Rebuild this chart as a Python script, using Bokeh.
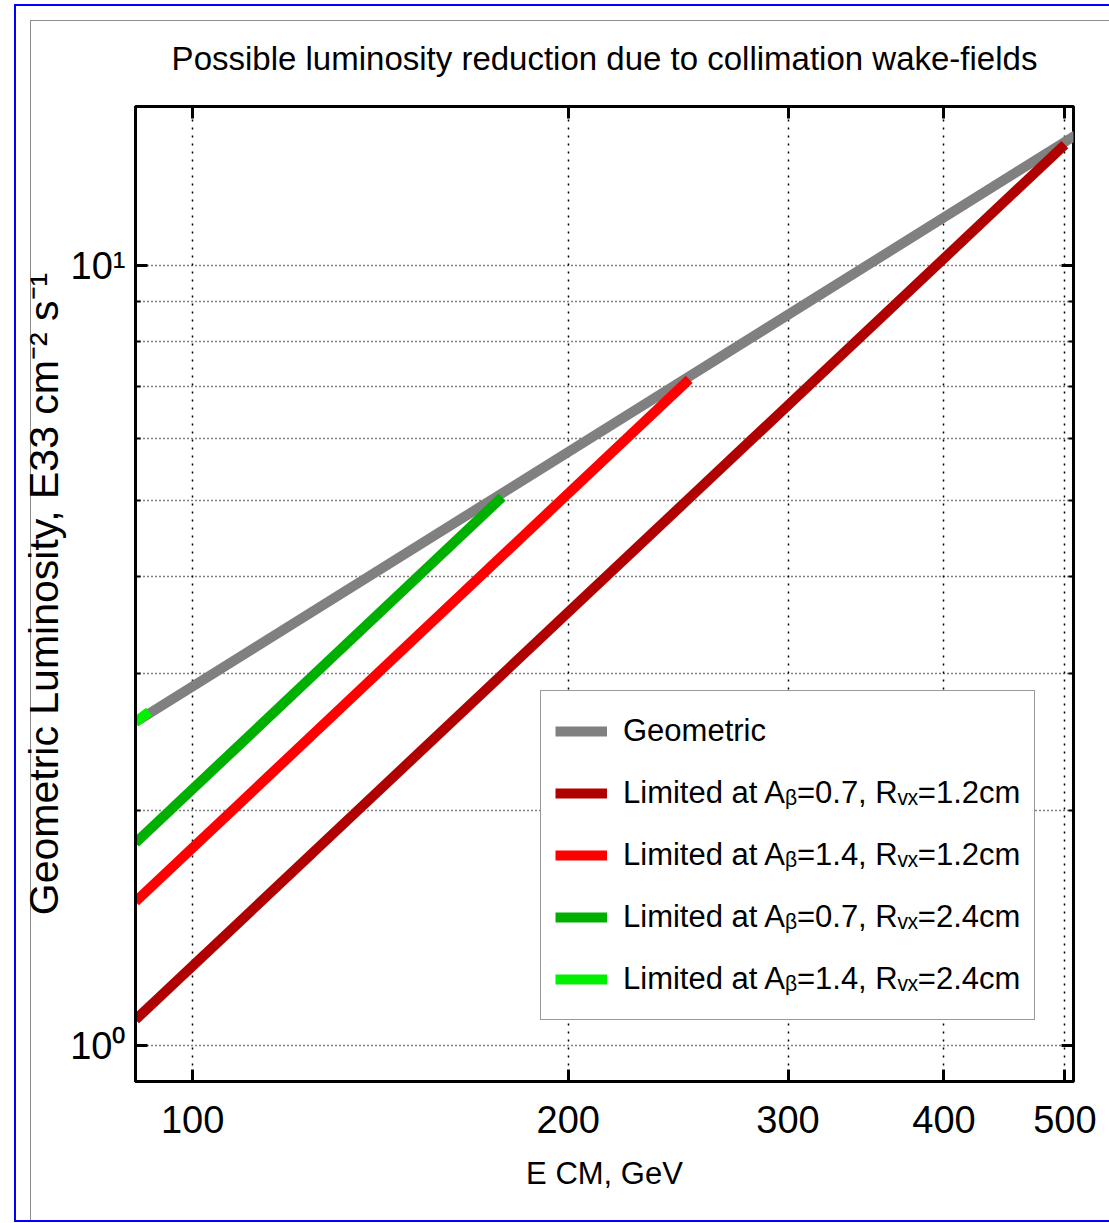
from bokeh.plotting import figure
from bokeh.layouts import column
from bokeh.models import FixedTicker, LogAxis, Range1d, Legend, LegendItem
from bokeh.embed import file_html
from bokeh.resources import INLINE

# ---------------- data ----------------
title_text = "Possible luminosity reduction due to collimation wake-fields"
x_label = "E CM, GeV"
y_label = "Geometric Luminosity, E33 cm\u207b\u00b2 s\u207b\u00b9"

x_ticks = [100, 200, 300, 400, 500]
x_tick_labels = ["100", "200", "300", "400", "500"]
y_ticks = [1, 10]
y_tick_labels = ["10\u2070", "10\u00b9"]
y_minor_ticks = [2, 3, 4, 5, 6, 7, 8, 9]

x_limits = [90, 508]
y_limits = [0.9, 16.0]

series_names = [
    "Geometric",
    "Limited at A\u1d66=0.7, R\u1d65\u2093=1.2cm",
    "Limited at A\u1d66=1.4, R\u1d65\u2093=1.2cm",
    "Limited at A\u1d66=0.7, R\u1d65\u2093=2.4cm",
    "Limited at A\u1d66=1.4, R\u1d65\u2093=2.4cm",
]
series_colors = ["#808080", "#B00000", "#FF0000", "#00B000", "#00F000"]

e_geometric = [90, 510]
lum_geometric = [2.60, 14.7]

e_a07_r12 = [90, 500]
lum_a07_r12 = [1.08, 14.3]

e_a14_r12 = [90, 250]
lum_a14_r12 = [1.53, 7.15]

e_a07_r24 = [90, 177]
lum_a07_r24 = [1.82, 5.05]

e_a14_r24 = [90, 92.3]
lum_a14_r24 = [2.60, 2.68]

series_x = [e_geometric, e_a07_r12, e_a14_r12, e_a07_r24, e_a14_r24]
series_y = [lum_geometric, lum_a07_r12, lum_a14_r12, lum_a07_r24, lum_a14_r24]

# ---------------- styling ----------------
FONT = "Liberation Sans"
OX, OY = 16, 6   # figure origin on the page (inside the blue frame)
W = 1109 - OX

p = figure(
    width=W, height=1220 - OY,
    x_axis_type="log", y_axis_type="log",
    x_range=Range1d(*x_limits), y_range=Range1d(*y_limits),
    output_backend="svg", toolbar_location=None,
    min_border_left=135 - OX, min_border_right=W - (1073 - OX),
    min_border_top=106 - OY, min_border_bottom=1220 - 1081,
    title=title_text,
)
p.background_fill_color = "white"
p.border_fill_color = None
p.outline_line_color = "black"
p.outline_line_width = 3
# thin grey page frame (left and top) drawn behind the transparent border area
p.styles = {"box-shadow": "inset 14px 14px 0 0 #ffffff, inset 15px 15px 0 0 #8c8c8c"}

p.title.align = "center"
p.title.text_font = FONT
p.title.text_font_size = "33px"
p.title.text_font_style = "normal"
p.title.text_color = "black"
p.title.standoff = 60

xt = FixedTicker(ticks=x_ticks, minor_ticks=[])
yt = FixedTicker(ticks=y_ticks, minor_ticks=y_minor_ticks)

xa = p.xaxis[0]
xa.ticker = xt
xa.major_label_overrides = {t: l for t, l in zip(x_ticks, x_tick_labels)}
xa.axis_label = x_label
ya = p.yaxis[0]
ya.ticker = yt
ya.major_label_overrides = {t: l for t, l in zip(y_ticks, y_tick_labels)}
ya.axis_label = y_label

for ax in (xa, ya):
    ax.axis_line_width = 3
    ax.axis_line_color = "black"
    ax.major_tick_in = 12
    ax.major_tick_out = 0
    ax.major_tick_line_width = 3
    ax.minor_tick_in = 5
    ax.minor_tick_out = 0
    ax.minor_tick_line_width = 2
    ax.major_label_text_font = FONT
    ax.major_label_text_font_size = "38px"
    ax.major_label_text_color = "black"
    ax.axis_label_text_font = FONT
    ax.axis_label_text_font_style = "normal"
    ax.axis_label_text_color = "black"

xa.major_label_standoff = 24
xa.axis_label_text_font_size = "31px"
xa.axis_label_standoff = 20

ya.major_label_standoff = 10
ya.axis_label_text_font_size = "41px"
ya.axis_label_standoff = 0

# mirrored ticks on top and right (MATLAB box)
top = LogAxis(ticker=FixedTicker(ticks=x_ticks, minor_ticks=[]))
top.major_label_overrides = {t: "" for t in x_ticks}
right = LogAxis(ticker=FixedTicker(ticks=y_ticks, minor_ticks=y_minor_ticks))
right.major_label_overrides = {t: "" for t in y_ticks}
for ax in (top, right):
    ax.axis_line_color = None
    ax.major_tick_in = 12
    ax.major_tick_out = 0
    ax.major_tick_line_width = 3
    ax.minor_tick_in = 5
    ax.minor_tick_out = 0
    ax.minor_tick_line_width = 2
    ax.major_label_standoff = 0
p.add_layout(top, "above")
p.add_layout(right, "right")

# grids: dotted
p.xgrid.ticker = xt
p.xgrid.grid_line_color = "black"
p.xgrid.grid_line_dash = "2 6"
p.xgrid.grid_line_width = 1.5
p.ygrid.ticker = yt
p.ygrid.grid_line_color = "black"
p.ygrid.grid_line_dash = "1 3"
p.ygrid.grid_line_width = 1.5
p.ygrid.minor_grid_line_color = "black"
p.ygrid.minor_grid_line_dash = "1 3"
p.ygrid.minor_grid_line_width = 1.5

items = []
for name, xs, ys, c in zip(series_names, series_x, series_y, series_colors):
    r = p.line(xs, ys, line_width=10, line_color=c)
    items.append(LegendItem(label=name, renderers=[r]))

legend = Legend(items=items, location=(405, 61))
legend.border_line_color = "#333333"
legend.border_line_width = 1.5
legend.background_fill_color = "white"
legend.background_fill_alpha = 1
legend.label_text_font = FONT
legend.label_text_font_size = "31px"
legend.label_text_color = "black"
legend.glyph_width = 52
legend.glyph_height = 40
legend.label_height = 52
legend.spacing = 10
legend.padding = 14
legend.margin = 0
legend.label_standoff = 16
p.add_layout(legend, "center")

# blue page frame seen around the reference figure
page = column(p, styles={"margin-left": "14px", "margin-top": "4px",
                         "border-left": "2px solid #0000FF",
                         "border-top": "2px solid #0000FF",
                         "border-bottom": "2px solid #0000FF"})

open("out.html", "w").write(file_html(page, INLINE))
